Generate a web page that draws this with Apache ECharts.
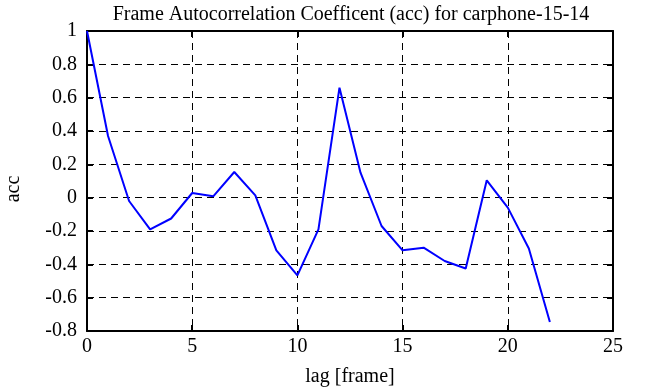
<!DOCTYPE html>
<html><head><meta charset="utf-8">
<script src="https://cdn.jsdelivr.net/npm/echarts@6/dist/echarts.min.js"></script>
<style>html,body{margin:0;padding:0;background:#fff}#c{width:646px;height:387px}</style>
</head><body><div id="c"></div>
<script>
const lags = [0,1,2,3,4,5,6,7,8,9,10,11,12,13,14,15,16,17,18,19,20,21,22];
const acc = [1.0,0.37,-0.02,-0.19,-0.125,0.028,0.008,0.154,0.014,-0.316,-0.466,-0.19,0.66,0.15,-0.17,-0.316,-0.30,-0.38,-0.425,0.104,-0.06,-0.305,-0.746];
const titleText = 'Frame Autocorrelation Coefficent (acc) for carphone-15-14';
const xName = 'lag [frame]';
const yName = 'acc';
const FONT = '"Liberation Serif", "Times New Roman", serif';
const chart = echarts.init(document.getElementById('c'));
const axisLine = {show:true, onZero:false, lineStyle:{color:'#000', width:2}};
const tick = {show:true, inside:true, length:6, lineStyle:{color:'#000', width:2}};
const grid = {show:true, lineStyle:{color:'#000', width:1, type:[7,5]}};
chart.setOption({
  animation:false,
  title:{text:titleText, left:346, textAlign:'center', top:0, textStyle:{fontFamily:FONT, fontSize:20, fontWeight:'normal', color:'#000'}},
  grid:{left:87, right:33, top:31, bottom:56, containLabel:false, outerBoundsMode:'none'},
  xAxis:[
    {type:'value', min:0, max:25, interval:5, position:'bottom', axisLine, axisTick:tick, splitLine:grid,
     axisLabel:{fontFamily:FONT, fontSize:20, color:'#000', margin:6},
     name:xName, nameLocation:'middle', nameGap:36, nameTextStyle:{fontFamily:FONT, fontSize:20, color:'#000'}},
    {type:'value', min:0, max:25, interval:5, position:'top', axisLine, axisTick:tick, splitLine:{show:false}, axisLabel:{show:false}}
  ],
  yAxis:[
    {type:'value', min:-0.8, max:1, interval:0.2, position:'left', axisLine, axisTick:tick, splitLine:grid,
     axisLabel:{fontFamily:FONT, fontSize:20, color:'#000', margin:10, formatter:v=>String(Math.round(v*10)/10)}},
    {type:'value', min:-0.8, max:1, interval:0.2, position:'right', axisLine, axisTick:tick, splitLine:{show:false}, axisLabel:{show:false}}
  ],
  graphic:[{type:'text', x:14, y:189, rotation:Math.PI/2, style:{text:yName, font:'20px "Liberation Serif", serif', fill:'#000', align:'center', verticalAlign:'middle'}}],
  series:[{type:'line', data:lags.map((x,i)=>[x,acc[i]]), showSymbol:false, lineStyle:{color:'#0000ff', width:2}, itemStyle:{color:'#0000ff'}}]
});
</script></body></html>
